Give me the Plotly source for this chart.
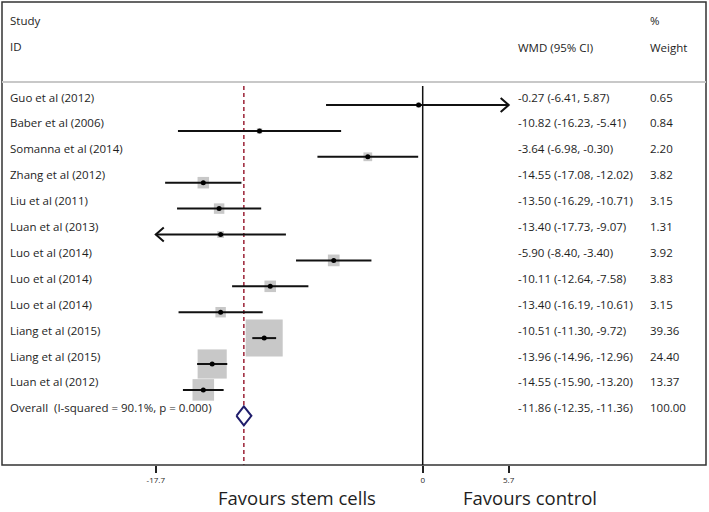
import numpy as np
import plotly.graph_objects as go

studies = ["Guo et al (2012)", "Baber et al (2006)", "Somanna et al (2014)", "Zhang et al (2012)",
           "Liu et al (2011)", "Luan et al (2013)", "Luo et al (2014)", "Luo et al (2014)",
           "Luo et al (2014)", "Liang et al (2015)", "Liang et al (2015)", "Luan et al (2012)"]
wmd = [-0.27, -10.82, -3.64, -14.55, -13.50, -13.40, -5.90, -10.11, -13.40, -10.51, -13.96, -14.55]
ci_lo = [-6.41, -16.23, -6.98, -17.08, -16.29, -17.73, -8.40, -12.64, -16.19, -11.30, -14.96, -15.90]
ci_hi = [5.87, -5.41, -0.30, -12.02, -10.71, -9.07, -3.40, -7.58, -10.61, -9.72, -12.96, -13.20]
weights = [0.65, 0.84, 2.20, 3.82, 3.15, 1.31, 3.92, 3.83, 3.15, 39.36, 24.40, 13.37]
overall_label = "Overall  (I-squared = 90.1%, p = 0.000)"
overall_est, overall_lo, overall_hi = -11.86, -12.35, -11.36
tick_vals = [-17.7, 0, 5.7]
tick_text = ["-17.7", "0", "5.7"]
x_min, x_max = -17.7, 5.7

W, H = 709, 512
# pixel mapping helpers (layout only)
px0, ppu = 422.7, 15.08
row0, rowh = 105.0, 25.9
y_bottom_px = 465.0
xr = [(0 - px0) / ppu, (W - px0) / ppu]
yr = [(y_bottom_px - row0) / rowh, (0 - row0) / rowh]

n = len(studies)
rows = list(range(n))
fig = go.Figure()

# boxes
max_w = max(weights)
sizes = [37 * np.sqrt(w / max_w) for w in weights]
fig.add_trace(go.Scatter(x=wmd, y=rows, mode="markers",
                         marker=dict(symbol="square", size=sizes, color="#b1b1b1", line=dict(width=0)),
                         hoverinfo="skip"))

# CI lines with arrows when clipped
lx, ly = [], []
ah_x = 8 / ppu
ah_y = 7 / rowh
for i in rows:
    lo = max(ci_lo[i], x_min)
    hi = min(ci_hi[i], x_max)
    lx += [lo, hi, None]
    ly += [i, i, None]
    if ci_hi[i] > x_max:
        lx += [hi - ah_x, hi, hi - ah_x, None]
        ly += [i - ah_y, i, i + ah_y, None]
    if ci_lo[i] < x_min:
        lx += [lo + ah_x, lo, lo + ah_x, None]
        ly += [i - ah_y, i, i + ah_y, None]
fig.add_trace(go.Scatter(x=lx, y=ly, mode="lines", line=dict(color="#111111", width=2),
                         hoverinfo="skip"))

# point estimates
fig.add_trace(go.Scatter(x=wmd, y=rows, mode="markers",
                         marker=dict(symbol="circle", size=5, color="#000000"), hoverinfo="skip"))

# diamond
orow = n
dh = 9.5 / rowh
fig.add_trace(go.Scatter(x=[overall_lo, overall_est, overall_hi, overall_est, overall_lo],
                         y=[orow, orow - dh, orow, orow + dh, orow],
                         mode="lines", fill="toself", fillcolor="white",
                         line=dict(color="#1f1d6b", width=2), hoverinfo="skip"))

shapes = []
# frame
shapes.append(dict(type="rect", xref="paper", yref="paper", x0=2 / W, x1=706 / W,
                   y0=1 - y_bottom_px / H, y1=1 - 2 / H, line=dict(color="#333333", width=1.5)))
# header separator
shapes.append(dict(type="line", xref="paper", yref="paper", x0=2 / W, x1=706 / W,
                   y0=1 - 82 / H, y1=1 - 82 / H, line=dict(color="#c8c8c8", width=2)))
# null line
top_row = (86 - row0) / rowh
shapes.append(dict(type="line", xref="x", yref="y", x0=0, x1=0, y0=top_row, y1=yr[0],
                   line=dict(color="#111111", width=1.5)))
# overall dashed line
shapes.append(dict(type="line", xref="x", yref="y", x0=overall_est, x1=overall_est, y0=top_row, y1=yr[0],
                   line=dict(color="#9b2236", width=1.5, dash="4px,3px"), layer="below"))

font_main = "Open Sans"
fs = 11.5
tc = "#1e1e1e"
ann = []
def txt(x_px, y_px, s, size=fs, anchor="left"):
    ann.append(dict(xref="paper", yref="paper", x=x_px / W, y=1 - y_px / H, text=s, showarrow=False,
                    xanchor=anchor, yanchor="middle", font=dict(family=font_main, size=size, color=tc)))

txt(8, 20, "Study")
txt(8, 46, "ID")
txt(516, 47, "WMD (95% CI)")
txt(648, 20, "%")
txt(648, 47, "Weight")
text_off = 8
for i in rows:
    ypx = row0 + rowh * i - text_off
    txt(8, ypx, studies[i])
    txt(516, ypx, f"{wmd[i]:.2f} ({ci_lo[i]:.2f}, {ci_hi[i]:.2f})")
    txt(648, ypx, f"{weights[i]:.2f}")
ypx = row0 + rowh * orow - text_off
txt(8, ypx, overall_label)
txt(516, ypx, f"{overall_est:.2f} ({overall_lo:.2f}, {overall_hi:.2f})")
txt(648, ypx, f"{sum(weights):.2f}")

txt(297, 497, "Favours stem cells", size=18.5, anchor="center")
txt(530, 497, "Favours control", size=18.5, anchor="center")

fig.update_layout(
    width=W, height=H, margin=dict(l=0, r=0, t=0, b=0),
    paper_bgcolor="white", plot_bgcolor="white", showlegend=False,
    shapes=shapes, annotations=ann,
    xaxis=dict(range=xr, showgrid=False, zeroline=False, showline=False,
               tickvals=tick_vals, ticktext=tick_text, ticks="outside", ticklen=7, tickwidth=1.5,
               tickcolor="#222222", tickfont=dict(family=font_main, size=8, color=tc), fixedrange=True),
    yaxis=dict(range=yr, domain=[1 - y_bottom_px / H, 1], showgrid=False, zeroline=False,
               showline=False, showticklabels=False, ticks="", fixedrange=True),
)
fig.write_html("out.html",
               post_script="document.body.style.margin='0';document.body.style.overflow='hidden';",
               config={"displayModeBar": False})
